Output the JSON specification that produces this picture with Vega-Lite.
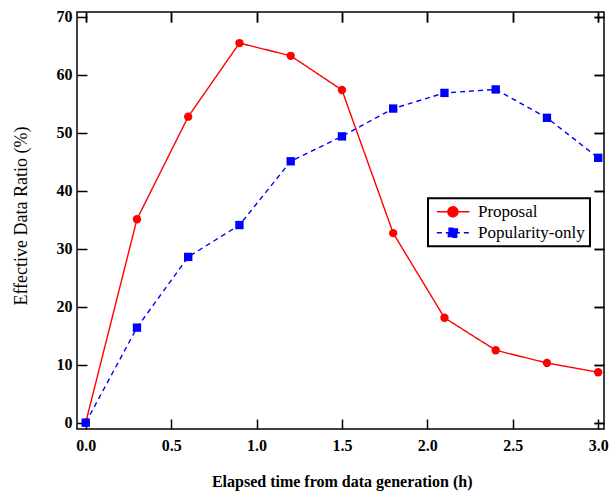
{
  "$schema": "https://vega.github.io/schema/vega-lite/v6.json",
  "width": 527,
  "height": 417,
  "autosize": {"type": "none"},
  "padding": {"left": 77, "top": 12, "right": 7, "bottom": 63},
  "background": "white",
  "config": {
    "font": "Liberation Serif",
    "view": {"stroke": "black", "strokeWidth": 1.5},
    "axis": {
      "domain": false,
      "grid": false,
      "tickColor": "black",
      "tickWidth": 1.5,
      "tickSize": -10,
      "labelFont": "Liberation Serif",
      "labelFontSize": 16,
      "labelFontWeight": "bold",
      "labelColor": "black",
      "titleColor": "black",
      "titleFont": "Liberation Serif"
    },
    "legend": {
      "orient": "none",
      "legendX": 351,
      "legendY": 186.3,
      "direction": "vertical",
      "strokeColor": "black",
      "strokeWidth": 2,
      "fillColor": "white",
      "padding": 5,
      "labelFont": "Liberation Serif",
      "labelFontSize": 17,
      "labelFontWeight": "normal",
      "labelColor": "black",
      "labelOffset": 28,
      "symbolSize": 196,
      "symbolStrokeWidth": 1.5,
      "symbolOpacity": 1,
      "rowPadding": 3
    }
  },
  "data": {
    "values": [
      {"series": "Proposal", "time": 0.0, "ratio": 0.0},
      {"series": "Proposal", "time": 0.3, "ratio": 35.1},
      {"series": "Proposal", "time": 0.6, "ratio": 52.8},
      {"series": "Proposal", "time": 0.9, "ratio": 65.5},
      {"series": "Proposal", "time": 1.2, "ratio": 63.3},
      {"series": "Proposal", "time": 1.5, "ratio": 57.4},
      {"series": "Proposal", "time": 1.8, "ratio": 32.7},
      {"series": "Proposal", "time": 2.1, "ratio": 18.1},
      {"series": "Proposal", "time": 2.4, "ratio": 12.5},
      {"series": "Proposal", "time": 2.7, "ratio": 10.3},
      {"series": "Proposal", "time": 3.0, "ratio": 8.7},
      {"series": "Popularity-only", "time": 0.0, "ratio": 0.0},
      {"series": "Popularity-only", "time": 0.3, "ratio": 16.4},
      {"series": "Popularity-only", "time": 0.6, "ratio": 28.6},
      {"series": "Popularity-only", "time": 0.9, "ratio": 34.1},
      {"series": "Popularity-only", "time": 1.2, "ratio": 45.1},
      {"series": "Popularity-only", "time": 1.5, "ratio": 49.4},
      {"series": "Popularity-only", "time": 1.8, "ratio": 54.2},
      {"series": "Popularity-only", "time": 2.1, "ratio": 56.9},
      {"series": "Popularity-only", "time": 2.4, "ratio": 57.5},
      {"series": "Popularity-only", "time": 2.7, "ratio": 52.6},
      {"series": "Popularity-only", "time": 3.0, "ratio": 45.7}
    ]
  },
  "encoding": {
    "color": {
      "field": "series", "type": "nominal",
      "scale": {"domain": ["Proposal", "Popularity-only"], "range": ["#ff0000", "#0000ff"]},
      "legend": {
        "title": null,
        "symbolType": {"expr": "datum.value === 'Proposal' ? 'M-0.66,0H4M0.92,0A0.71,0.71,0,1,1,2.34,0A0.71,0.71,0,1,1,0.92,0Z' : 'M-0.66,0H4M0.99,-0.64H2.27V0.64H0.99Z'"},
        "symbolStrokeColor": {"expr": "datum.value === 'Proposal' ? '#ff0000' : '#0000ff'"},
        "symbolFillColor": {"expr": "datum.value === 'Proposal' ? '#ff0000' : '#0000ff'"},
        "symbolDash": {"expr": "datum.value === 'Proposal' ? [1, 0] : [4, 3]"}
      }
    }
  },
  "layer": [
    {
      "mark": {"type": "line", "strokeWidth": 1.4},
      "encoding": {
        "x": {
          "field": "time", "type": "quantitative",
          "scale": {"domain": [-0.051, 3.034], "nice": false, "zero": false},
          "axis": {
            "orient": "bottom",
            "values": [0, 0.5, 1, 1.5, 2, 2.5, 3],
            "format": ".1f",
            "labelPadding": 18.6,
            "labelFlush": false,
            "title": "Elapsed time from data generation (h)",
            "titleFontSize": 16,
            "titleFontWeight": "bold",
            "titleX": 264.7,
            "titleY": 52.2,
            "titleBaseline": "middle"
          }
        },
        "y": {
          "field": "ratio", "type": "quantitative",
          "scale": {"domain": [-1.09, 70.86], "nice": false, "zero": false},
          "axis": {
            "orient": "left",
            "values": [0, 10, 20, 30, 40, 50, 60, 70],
            "format": "d",
            "labelPadding": 15,
            "labelFlush": false,
            "title": "Effective Data Ratio (%)",
            "titleFontSize": 18,
            "titleFontWeight": "normal",
            "titleX": -55.8,
            "titleY": 203.5,
            "titleAngle": -90,
            "titleBaseline": "middle"
          }
        },
        "strokeDash": {
          "field": "series", "type": "nominal",
          "scale": {"domain": ["Proposal", "Popularity-only"], "range": [[1, 0], [5, 4]]},
          "legend": null
        }
      }
    },
    {
      "transform": [{"filter": "datum.series === 'Proposal'"}],
      "mark": {"type": "point", "filled": true, "opacity": 1, "size": 70, "shape": "circle"},
      "encoding": {
        "x": {
          "field": "time", "type": "quantitative",
          "scale": {"domain": [-0.051, 3.034], "nice": false, "zero": false},
          "axis": {"orient": "top", "values": [0, 0.5, 1, 1.5, 2, 2.5, 3], "labels": false, "title": null}
        },
        "y": {
          "field": "ratio", "type": "quantitative",
          "scale": {"domain": [-1.09, 70.86], "nice": false, "zero": false},
          "axis": {"orient": "right", "values": [0, 10, 20, 30, 40, 50, 60, 70], "labels": false, "title": null}
        }
      }
    },
    {
      "transform": [{"filter": "datum.series === 'Popularity-only'"}],
      "mark": {"type": "point", "filled": true, "opacity": 1, "size": 70, "shape": "square"},
      "encoding": {
        "x": {
          "field": "time", "type": "quantitative",
          "scale": {"domain": [-0.051, 3.034], "nice": false, "zero": false},
          "axis": {"orient": "top", "values": [0, 0.5, 1, 1.5, 2, 2.5, 3], "labels": false, "title": null}
        },
        "y": {
          "field": "ratio", "type": "quantitative",
          "scale": {"domain": [-1.09, 70.86], "nice": false, "zero": false},
          "axis": {"orient": "right", "values": [0, 10, 20, 30, 40, 50, 60, 70], "labels": false, "title": null}
        }
      }
    }
  ]
}
